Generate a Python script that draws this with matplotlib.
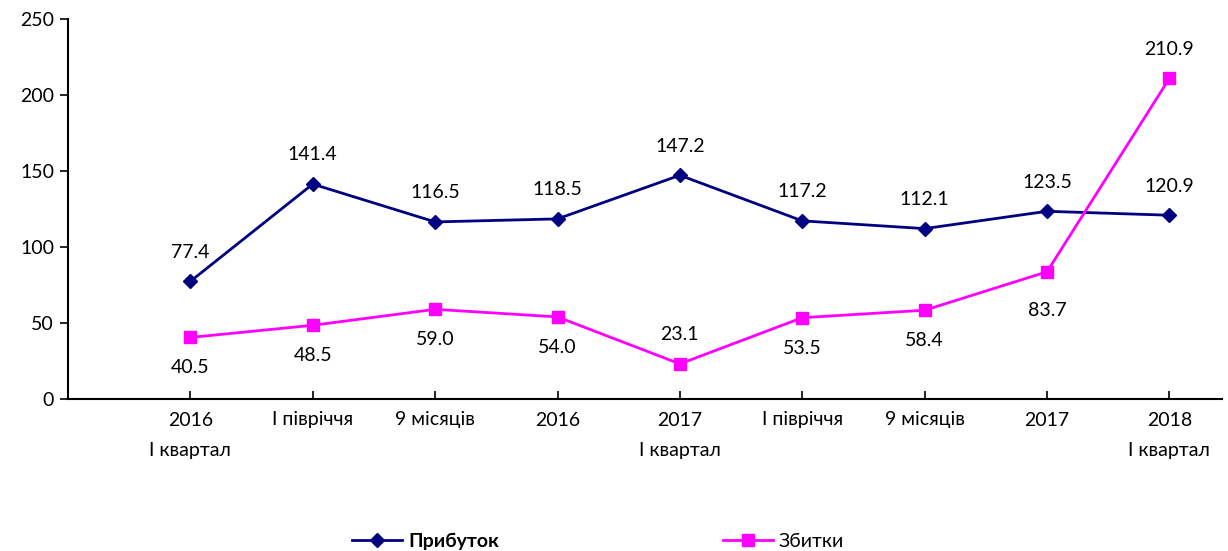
import matplotlib
matplotlib.use("Agg")
import matplotlib.pyplot as plt

categories = ["2016\nI квартал", "I півріччя", "9 місяців", "2016",
              "2017\nI квартал", "I півріччя", "9 місяців", "2017",
              "2018\nI квартал"]
profit = [77.4, 141.4, 116.5, 118.5, 147.2, 117.2, 112.1, 123.5, 120.9]
losses = [40.5, 48.5, 59.0, 54.0, 23.1, 53.5, 58.4, 83.7, 210.9]
profit_name = "Прибуток"
losses_name = "Збитки"
yticks = [0, 50, 100, 150, 200, 250]

plt.rcParams['font.family'] = ['Lato', 'DejaVu Sans']
FS = 14

fig = plt.figure(figsize=(12.28, 5.51), dpi=100)
ax = fig.add_axes([68/1228, 1-399/551, (1222-68)/1228, (399-19)/551])

x = list(range(len(categories)))
l1, = ax.plot(x, profit, color='#000080', lw=2, marker='D', ms=7.5,
              markerfacecolor='#000080', markeredgecolor='#000080')
l2, = ax.plot(x, losses, color='#FF00FF', lw=2, marker='s', ms=9,
              markerfacecolor='#FF00FF', markeredgecolor='#FF00FF')

for xi, v in zip(x, profit):
    ax.annotate(f"{v:.1f}", (xi, v), xytext=(0, 21), textcoords='offset points',
                ha='center', va='center', fontsize=FS)
for xi, v in zip(x, losses):
    if v > 200 or abs(v - 23.1) < 1e-6:
        off = 21
    elif abs(v - 83.7) < 1e-6:
        off = -28
    else:
        off = -22
    ax.annotate(f"{v:.1f}", (xi, v), xytext=(0, off), textcoords='offset points',
                ha='center', va='center', fontsize=FS)

ax.set_xlim(-1, 8.43)
ax.set_ylim(0, 250)
ax.set_yticks(yticks)
ax.set_xticks(x)
ax.set_xticklabels(categories, fontsize=FS, linespacing=1.95)
ax.tick_params(axis='y', labelsize=FS, direction='out', length=6, width=1.2, pad=4)
ax.tick_params(axis='x', direction='in', length=6, width=1.2, pad=9)
for s in ['top', 'right']:
    ax.spines[s].set_visible(False)
for s in ['left', 'bottom']:
    ax.spines[s].set_linewidth(1.5)

leg = fig.legend([l1, l2], [profit_name, losses_name], loc='center',
                 bbox_to_anchor=(598/1228, 1-541/551), ncol=2, frameon=False,
                 fontsize=FS, handlelength=2.6, columnspacing=11.5, handletextpad=0.3)
leg.get_texts()[0].set_fontweight('bold')

fig.savefig("out.png", dpi=100)
